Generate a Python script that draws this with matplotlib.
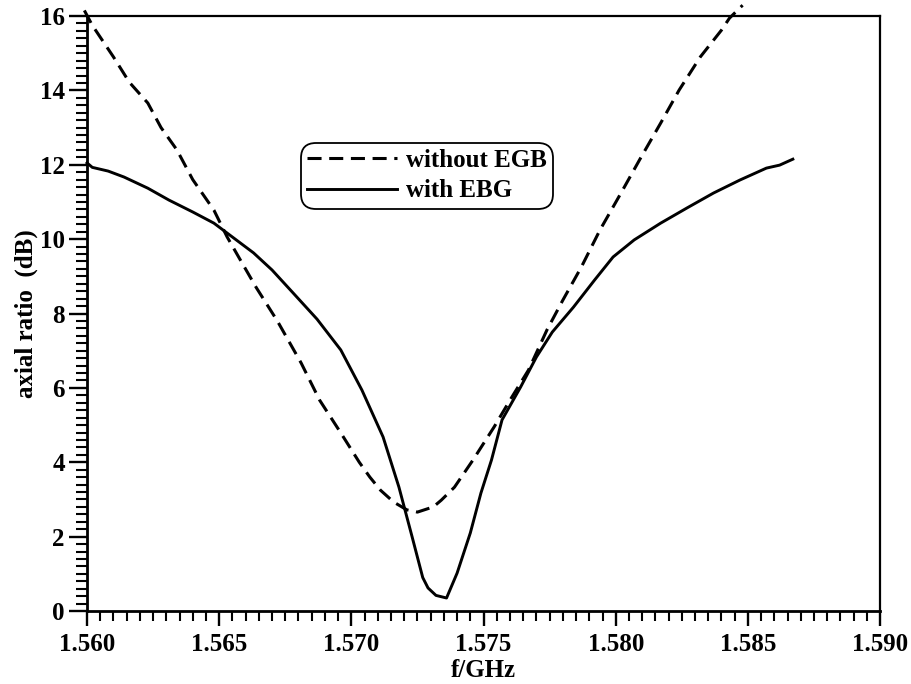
import matplotlib
matplotlib.use("Agg")
import matplotlib.pyplot as plt
from matplotlib.ticker import MultipleLocator, FormatStrFormatter

plt.rcParams["font.family"] = ["Liberation Serif", "DejaVu Serif"]
plt.rcParams["font.weight"] = "bold"
plt.rcParams["font.size"] = 18

# Axial ratio vs frequency, antenna without the EBG structure
freq_without = [1.5599, 1.5602, 1.5610, 1.5616, 1.5623, 1.5628, 1.5634, 1.5640,
                1.5648, 1.5653, 1.5658, 1.5664, 1.5672, 1.5681, 1.5688, 1.5696,
                1.5703, 1.5707, 1.5711, 1.5716, 1.5721, 1.5725, 1.5731, 1.5734,
                1.5739, 1.5746, 1.5754, 1.5760, 1.5767, 1.5774, 1.5780, 1.5787,
                1.5794, 1.5802, 1.5809, 1.5817, 1.5824, 1.5832, 1.5840, 1.5843,
                1.5848]
ar_without = [16.15, 15.75, 14.90, 14.22, 13.66, 13.00, 12.40, 11.60,
              10.78, 10.06, 9.44, 8.70, 7.80, 6.67, 5.67, 4.79,
              4.00, 3.60, 3.25, 2.93, 2.72, 2.66, 2.80, 2.98,
              3.33, 4.06, 4.95, 5.67, 6.48, 7.56, 8.36, 9.25,
              10.24, 11.24, 12.13, 13.12, 14.01, 14.90, 15.62, 15.94,
              16.29]

# Axial ratio vs frequency, antenna with the EBG structure
freq_with = [1.5600, 1.5602, 1.5608, 1.5614, 1.5623, 1.5631, 1.5640, 1.5648,
             1.5654, 1.5663, 1.5670, 1.5678, 1.5687, 1.5696, 1.5704, 1.5712,
             1.5718, 1.5723, 1.5727, 1.5729, 1.5732, 1.5736, 1.5740, 1.5745,
             1.5749, 1.5753, 1.5757, 1.5764, 1.5770, 1.5776, 1.5784, 1.5792,
             1.5799, 1.5807, 1.5817, 1.5827, 1.5837, 1.5847, 1.5857, 1.5862,
             1.5867]
ar_with = [12.05, 11.93, 11.83, 11.67, 11.37, 11.05, 10.73, 10.43,
           10.11, 9.63, 9.17, 8.55, 7.85, 7.02, 5.94, 4.68,
           3.33, 1.99, 0.90, 0.62, 0.42, 0.35, 1.02, 2.10,
           3.17, 4.06, 5.14, 6.02, 6.83, 7.50, 8.17, 8.90,
           9.52, 9.98, 10.43, 10.84, 11.24, 11.59, 11.91, 11.99,
           12.15]

x_ticks = [1.560, 1.565, 1.570, 1.575, 1.580, 1.585, 1.590]
y_ticks = [0, 2, 4, 6, 8, 10, 12, 14, 16]

fig = plt.figure(figsize=(9.12, 6.84), dpi=100)
ax = fig.add_axes([0.0954, 0.1067, 0.8696, 0.8699])

ax.plot(freq_without, ar_without, color="black", lw=2.2,
        linestyle=(0, (4.6, 2.5)), clip_on=False, label="without EGB")
ax.plot(freq_with, ar_with, color="black", lw=2.1, clip_on=False,
        label="with EBG")

ax.set_xlim(1.560, 1.590)
ax.set_ylim(0, 16)
ax.set_xticks(x_ticks)
ax.set_yticks(y_ticks)
ax.xaxis.set_major_formatter(FormatStrFormatter("%.3f"))
ax.xaxis.set_minor_locator(MultipleLocator(0.0005))
ax.yaxis.set_minor_locator(MultipleLocator(0.2))

ax.tick_params(axis="x", which="major", direction="out", length=11, width=1.7, pad=5)
ax.tick_params(axis="x", which="minor", direction="out", length=7, width=1.5)
ax.tick_params(axis="y", which="major", direction="out", length=13, width=1.7, pad=3)
ax.tick_params(axis="y", which="minor", direction="out", length=8, width=1.5)
ax.tick_params(top=False, right=False, which="both")

for side in ("left", "bottom"):
    ax.spines[side].set_linewidth(2.0)
for side in ("top", "right"):
    ax.spines[side].set_linewidth(1.6)

ax.set_xlabel("f/GHz", fontsize=18, fontweight="bold", labelpad=2)
ax.set_ylabel("axial ratio  (dB)", fontsize=18, fontweight="bold", labelpad=1)

leg = ax.legend(loc="upper left", bbox_to_anchor=(0.27, 0.787), borderaxespad=0,
                frameon=True, fancybox=True, handlelength=3.6, handletextpad=0.35,
                borderpad=0.25, labelspacing=0.3, fontsize=18)
frame = leg.get_frame()
frame.set_edgecolor("black")
frame.set_linewidth(1.3)
frame.set_alpha(1)
frame.set_boxstyle("round", pad=0.0, rounding_size=0.6)

fig.savefig("out.png", dpi=100)
